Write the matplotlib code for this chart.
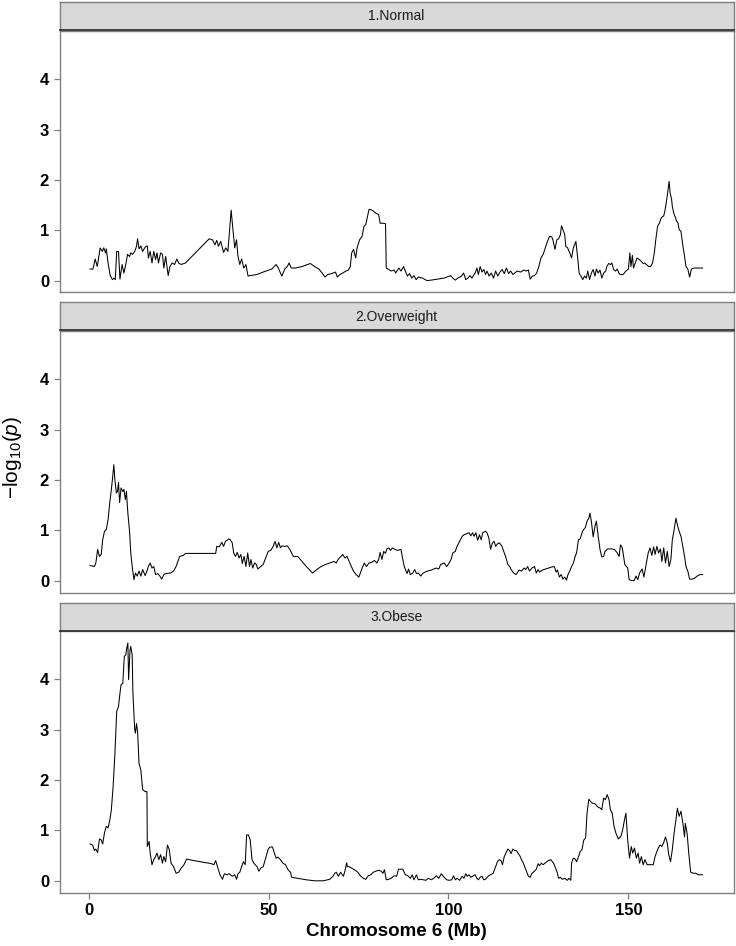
import matplotlib
matplotlib.use("Agg")
import matplotlib.pyplot as plt

plt.rcParams['font.family'] = ['Liberation Sans', 'DejaVu Sans']
plt.rcParams['mathtext.fontset'] = 'custom'
plt.rcParams['mathtext.rm'] = 'Liberation Sans'
plt.rcParams['mathtext.it'] = 'Liberation Sans:italic'

# facet titles
groups = ['1.Normal', '2.Overweight', '3.Obese']

# 1.Normal : position (Mb), -log10(p)
normal_pos = [0.36, 1.2, 1.8, 2.4, 3.2, 3.8, 4.2, 4.7, 4.9, 5.4, 6.0, 6.6, 7.1, 7.4, 7.8, 8.3, 8.7, 9.3, 9.8,
              10.4, 10.8, 11.4, 11.7, 12.2, 12.8, 13.3, 13.6, 14.0, 14.5, 15.0, 15.4, 15.9, 16.3, 16.6, 17.1,
              17.6, 18.1, 18.6, 19.0, 19.4, 20.0, 20.5, 20.9, 21.4, 22.1, 22.6, 23.2, 23.9, 24.5, 25.0, 25.7,
              26.9, 33.5, 34.4, 35.1, 35.6, 36.1, 36.7, 37.5, 38.1, 38.7, 39.1, 39.6, 40.1, 40.6, 41.1, 41.5,
              42.0, 42.5, 43.1, 43.7, 44.3, 44.9, 46.7, 48.5, 50.9, 52.1, 52.7, 53.3, 53.7, 54.5, 55.2, 55.7,
              56.3, 57.5, 59.3, 61.6, 62.8, 64.0, 65.0, 65.7, 66.4, 67.6, 68.6, 69.1, 69.8, 70.6, 71.5, 72.2,
              72.7, 73.1, 73.6, 74.2, 74.6, 75.3, 76.0, 76.5, 77.0, 77.5, 77.9, 78.4, 79.1, 79.8, 80.6, 81.0,
              81.8, 82.5, 82.7, 83.4, 84.1, 84.9, 85.3, 86.2, 86.8, 87.5, 88.0, 88.6, 89.2, 89.8, 90.4, 91.0,
              91.6, 92.8, 94.0, 95.2, 97.0, 98.8, 100.6, 101.2, 101.9, 102.6, 103.6, 104.2, 104.8, 105.4,
              106.0, 106.5, 107.4, 107.9, 108.3, 108.8, 109.3, 109.8, 110.3, 110.7, 111.3, 111.9, 112.5,
              113.1, 113.7, 114.3, 114.9, 115.5, 116.1, 116.7, 117.3, 117.9, 119.1, 120.1, 120.9, 121.5,
              122.2, 122.7, 123.3, 123.9, 124.5, 125.1, 125.7, 126.3, 126.9, 127.5, 128.1, 128.7, 129.0,
              129.6, 130.1, 130.6, 131.1, 131.4, 131.8, 132.3, 132.6, 133.1, 133.7, 134.2, 134.7, 135.4,
              135.9, 136.3, 136.8, 137.3, 137.8, 138.3, 138.7, 139.2, 139.7, 140.2, 140.7, 141.1, 141.6,
              142.1, 142.6, 143.1, 143.7, 144.0, 144.5, 145.0, 145.4, 145.9, 146.4, 146.9, 147.4, 147.8,
              148.5, 149.3, 150.0, 150.4, 150.7, 151.1, 151.4, 151.9, 152.4, 153.0, 153.6, 154.1, 154.5,
              155.0, 155.6, 156.2, 156.7, 157.2, 157.6, 158.1, 158.6, 159.1, 159.6, 159.8, 160.2, 160.5,
              160.9, 161.3, 161.6, 162.0, 162.2, 162.6, 162.9, 163.4, 163.8, 164.1, 164.6, 165.1, 165.6,
              166.0, 166.5, 167.0, 167.5, 168.2, 169.4, 170.6]
normal_p = [0.23, 0.23, 0.43, 0.28, 0.65, 0.58, 0.65, 0.55, 0.63, 0.35, 0.10, 0.02, 0.05, 0.02, 0.58, 0.58, 0.03,
            0.32, 0.15, 0.35, 0.52, 0.48, 0.55, 0.52, 0.58, 0.68, 0.83, 0.63, 0.69, 0.58, 0.63, 0.68, 0.69, 0.45,
            0.58, 0.35, 0.58, 0.42, 0.55, 0.35, 0.55, 0.52, 0.25, 0.48, 0.10, 0.28, 0.35, 0.32, 0.43, 0.35, 0.32,
            0.35, 0.83, 0.81, 0.71, 0.80, 0.68, 0.78, 0.56, 0.65, 0.58, 0.95, 1.40, 1.01, 0.65, 0.81, 0.48, 0.32,
            0.43, 0.25, 0.32, 0.09, 0.10, 0.12, 0.17, 0.23, 0.32, 0.25, 0.15, 0.09, 0.23, 0.28, 0.35, 0.25, 0.25,
            0.28, 0.34, 0.28, 0.23, 0.14, 0.07, 0.12, 0.14, 0.17, 0.07, 0.12, 0.15, 0.19, 0.21, 0.28, 0.55, 0.62,
            0.45, 0.65, 0.81, 0.88, 1.08, 1.11, 1.28, 1.41, 1.41, 1.38, 1.34, 1.31, 1.14, 1.14, 1.13, 0.25, 0.22,
            0.19, 0.21, 0.15, 0.25, 0.19, 0.28, 0.19, 0.09, 0.14, 0.05, 0.10, 0.02, 0.07, 0.05, 0.00, 0.01, 0.03,
            0.05, 0.10, 0.05, 0.01, 0.05, 0.09, 0.15, 0.02, 0.05, 0.10, 0.05, 0.15, 0.25, 0.12, 0.28, 0.17, 0.22,
            0.12, 0.19, 0.09, 0.15, 0.05, 0.19, 0.09, 0.17, 0.22, 0.14, 0.25, 0.14, 0.19, 0.12, 0.19, 0.17, 0.21,
            0.19, 0.21, 0.03, 0.09, 0.10, 0.15, 0.28, 0.45, 0.52, 0.65, 0.78, 0.88, 0.87, 0.81, 0.62, 0.81, 0.83,
            0.91, 1.09, 1.01, 0.91, 0.68, 0.65, 0.55, 0.45, 0.65, 0.78, 0.45, 0.15, 0.09, 0.02, 0.09, 0.05, 0.19,
            0.02, 0.15, 0.22, 0.09, 0.23, 0.15, 0.21, 0.05, 0.15, 0.19, 0.28, 0.34, 0.32, 0.35, 0.22, 0.19, 0.23,
            0.14, 0.12, 0.12, 0.19, 0.23, 0.55, 0.28, 0.50, 0.25, 0.35, 0.45, 0.42, 0.38, 0.34, 0.35, 0.32, 0.28,
            0.28, 0.35, 0.55, 0.81, 1.08, 1.14, 1.24, 1.28, 1.28, 1.41, 1.54, 1.74, 1.97, 1.74, 1.61, 1.47, 1.34,
            1.28, 1.18, 1.14, 1.01, 0.98, 0.71, 0.48, 0.28, 0.23, 0.07, 0.23, 0.25, 0.25, 0.25]

# 2.Overweight
over_pos = [0.4, 1.6, 2.0, 2.5, 3.0, 3.5, 3.9, 4.4, 4.9, 5.4, 5.9, 6.2, 6.6, 7.0, 7.3, 7.7, 8.0, 8.3, 8.6, 9.0,
            9.5, 9.8, 10.2, 10.5, 10.9, 11.4, 11.7, 12.2, 12.6, 13.0, 13.5, 14.0, 14.5, 15.0, 15.7, 16.2, 16.6,
            17.1, 17.6, 18.1, 18.6, 19.2, 19.8, 20.3, 20.9, 21.5, 22.7, 23.6, 24.3, 24.8, 25.3, 26.3, 26.9,
            35.3, 35.6, 36.3, 37.0, 37.5, 38.0, 38.5, 38.9, 39.4, 39.9, 40.3, 40.8, 41.3, 41.8, 42.3, 42.7,
            43.2, 43.7, 44.2, 44.7, 45.1, 45.6, 46.1, 46.6, 47.0, 47.8, 48.5, 49.2, 49.9, 50.6, 51.3, 51.8,
            52.3, 52.8, 53.3, 53.7, 54.5, 55.2, 55.9, 56.4, 56.9, 58.1, 59.3, 60.5, 62.2, 63.4, 64.6, 65.8,
            67.0, 68.2, 68.8, 69.4, 70.0, 70.6, 71.2, 71.8, 72.4, 73.0, 73.6, 74.3, 75.1, 75.5, 76.0, 76.6,
            77.2, 77.9, 78.6, 79.4, 80.1, 80.6, 81.0, 81.5, 82.0, 82.5, 82.9, 83.4, 83.9, 84.4, 85.1, 85.8,
            86.8, 87.3, 87.7, 88.5, 88.9, 89.4, 90.1, 90.6, 91.1, 91.6, 92.3, 92.8, 93.5, 94.2, 95.2, 95.9,
            96.6, 97.3, 97.8, 98.8, 99.5, 100.2, 100.7, 101.2, 101.9, 102.3, 103.1, 103.8, 104.3, 105.0,
            105.7, 106.2, 106.7, 107.1, 107.6, 108.1, 108.6, 109.1, 109.5, 110.3, 110.7, 111.2, 111.7,
            112.2, 112.7, 113.1, 113.6, 114.1, 114.8, 115.5, 116.0, 116.5, 117.0, 117.4, 118.1, 118.8,
            119.6, 120.3, 121.0, 121.5, 122.0, 122.5, 123.2, 123.9, 124.4, 124.9, 125.3, 126.1, 127.0,
            128.0, 128.7, 129.4, 129.9, 130.3, 130.8, 131.3, 131.8, 132.3, 132.8, 133.2, 133.7, 134.2,
            134.7, 135.2, 135.6, 136.1, 136.6, 137.1, 137.5, 138.0, 138.5, 139.0, 139.3, 139.7, 140.2,
            140.7, 141.1, 141.6, 142.1, 142.6, 143.1, 143.5, 144.2, 145.2, 146.1, 146.9, 147.4, 147.8,
            148.3, 149.0, 149.8, 150.2, 150.9, 151.6, 152.1, 152.6, 153.1, 153.8, 154.3, 155.0, 155.5,
            156.0, 156.5, 157.0, 157.4, 157.9, 158.4, 158.9, 159.3, 159.8, 160.3, 160.8, 161.3, 161.8,
            162.2, 162.7, 163.2, 163.7, 164.1, 164.6, 165.1, 165.6, 166.0, 166.5, 167.0, 167.7, 168.4,
            169.1, 169.9, 170.6]
over_p = [0.30, 0.28, 0.35, 0.62, 0.48, 0.52, 0.81, 0.98, 1.01, 1.21, 1.57, 1.74, 2.00, 2.30, 2.00, 1.74, 1.77,
          1.95, 1.55, 1.84, 1.77, 1.81, 1.61, 1.77, 1.34, 0.95, 0.55, 0.22, 0.02, 0.15, 0.09, 0.19, 0.09, 0.22,
          0.10, 0.19, 0.28, 0.35, 0.25, 0.28, 0.12, 0.14, 0.09, 0.03, 0.12, 0.14, 0.15, 0.19, 0.28, 0.38, 0.48,
          0.50, 0.54, 0.54, 0.68, 0.67, 0.76, 0.68, 0.78, 0.80, 0.83, 0.81, 0.75, 0.55, 0.48, 0.56, 0.45, 0.52,
          0.34, 0.48, 0.28, 0.55, 0.28, 0.42, 0.25, 0.35, 0.32, 0.23, 0.28, 0.32, 0.45, 0.58, 0.60, 0.68, 0.78,
          0.65, 0.76, 0.65, 0.69, 0.68, 0.69, 0.62, 0.55, 0.48, 0.48, 0.38, 0.28, 0.15, 0.22, 0.28, 0.32, 0.35,
          0.38, 0.35, 0.43, 0.47, 0.52, 0.45, 0.48, 0.38, 0.28, 0.19, 0.12, 0.07, 0.15, 0.25, 0.35, 0.28, 0.35,
          0.36, 0.40, 0.35, 0.42, 0.56, 0.42, 0.58, 0.54, 0.63, 0.65, 0.60, 0.65, 0.62, 0.60, 0.62, 0.42, 0.28,
          0.14, 0.23, 0.12, 0.15, 0.22, 0.14, 0.15, 0.09, 0.14, 0.17, 0.19, 0.21, 0.23, 0.25, 0.23, 0.32, 0.35,
          0.28, 0.35, 0.42, 0.55, 0.58, 0.67, 0.78, 0.88, 0.91, 0.93, 0.95, 0.89, 0.95, 0.88, 0.95, 0.80, 0.91,
          0.81, 0.95, 0.98, 0.95, 0.85, 0.62, 0.75, 0.78, 0.68, 0.73, 0.75, 0.69, 0.55, 0.45, 0.32, 0.28, 0.22,
          0.15, 0.12, 0.21, 0.19, 0.25, 0.22, 0.28, 0.19, 0.25, 0.28, 0.15, 0.22, 0.17, 0.21, 0.23, 0.25, 0.27,
          0.28, 0.17, 0.21, 0.07, 0.12, 0.03, 0.07, 0.01, 0.12, 0.19, 0.28, 0.35, 0.48, 0.55, 0.81, 0.83, 0.95,
          1.01, 1.05, 1.18, 1.24, 1.34, 1.18, 0.87, 1.08, 1.18, 0.88, 0.62, 0.47, 0.48, 0.58, 0.63, 0.63, 0.62,
          0.55, 0.48, 0.71, 0.65, 0.32, 0.25, 0.02, 0.00, 0.00, 0.09, 0.02, 0.15, 0.23, 0.07, 0.35, 0.55, 0.65,
          0.50, 0.67, 0.52, 0.68, 0.55, 0.63, 0.38, 0.65, 0.35, 0.58, 0.28, 0.42, 0.81, 1.01, 1.24, 1.08, 0.98,
          0.88, 0.68, 0.48, 0.28, 0.19, 0.03, 0.03, 0.05, 0.09, 0.12, 0.12]

# 3.Obese
obese_pos = [0.4, 1.1, 1.6, 2.0, 2.5, 3.0, 3.5, 3.9, 4.4, 4.9, 5.4, 5.9, 6.3, 6.8, 7.3, 7.8, 8.3, 8.6, 9.0, 9.5,
             9.9, 10.3, 10.6, 10.9, 11.1, 11.5, 11.7, 12.1, 12.3, 12.8, 13.0, 13.3, 13.6, 14.0, 14.5, 15.0,
             15.7, 16.2, 16.3, 16.8, 17.1, 17.6, 18.1, 18.6, 19.0, 19.5, 20.0, 20.5, 20.9, 21.4, 21.9, 22.4,
             22.9, 23.6, 24.3, 25.0, 25.7, 26.5, 27.2, 29.3, 31.7, 34.1, 34.8, 35.3, 35.8, 36.5, 37.2, 37.7,
             38.4, 39.1, 39.9, 40.6, 41.1, 41.5, 42.0, 42.5, 43.0, 43.5, 43.7, 43.9, 44.4, 44.9, 45.4, 45.9,
             46.3, 46.8, 47.3, 47.8, 48.5, 49.2, 49.9, 50.4, 51.1, 51.6, 52.1, 52.6, 53.3, 54.0, 54.7, 55.4,
             56.1, 56.4, 58.1, 60.5, 62.8, 65.2, 67.0, 67.9, 68.4, 68.8, 69.4, 70.0, 70.8, 71.2, 71.7, 71.9,
             72.4, 73.1, 74.1, 74.8, 75.5, 76.3, 77.0, 77.7, 78.4, 79.1, 79.8, 80.6, 81.3, 81.8, 82.2, 82.7,
             83.4, 84.1, 84.9, 85.6, 86.1, 86.6, 87.3, 88.0, 88.7, 89.4, 89.9, 90.4, 91.1, 91.6, 92.3, 93.0,
             93.7, 94.4, 95.2, 95.9, 96.6, 97.3, 98.0, 98.8, 99.5, 100.2, 100.9, 101.4, 101.9, 102.4, 103.1,
             103.8, 104.3, 104.8, 105.2, 105.7, 106.2, 106.7, 107.4, 107.9, 108.3, 108.8, 109.3, 109.8,
             110.3, 111.0, 111.7, 112.4, 113.1, 113.6, 114.1, 114.6, 115.0, 115.5, 116.0, 116.5, 117.0,
             117.4, 117.9, 118.4, 118.9, 119.3, 119.8, 120.3, 120.8, 121.5, 122.2, 122.7, 123.2, 123.9,
             124.4, 124.9, 125.3, 125.8, 126.3, 127.0, 127.7, 128.4, 129.2, 129.6, 130.1, 130.6, 131.1,
             131.6, 132.3, 133.0, 133.5, 134.0, 134.2, 134.7, 135.2, 135.6, 136.1, 136.6, 137.1, 137.6,
             138.1, 138.5, 139.0, 139.5, 140.0, 140.7, 141.4, 142.2, 142.6, 143.1, 143.6, 144.1, 144.6,
             145.0, 145.5, 146.0, 146.5, 147.2, 147.9, 148.4, 148.9, 149.3, 149.8, 150.3, 150.8, 151.2,
             151.7, 152.2, 152.7, 153.1, 153.6, 154.1, 154.6, 155.2, 156.2, 156.9, 157.4, 157.9, 158.3,
             158.8, 159.3, 159.8, 160.3, 160.8, 161.2, 161.7, 162.2, 162.7, 163.2, 163.6, 164.1, 164.6,
             165.1, 165.6, 165.8, 166.3, 166.8, 167.3, 168.0, 168.7, 169.4, 170.6]
obese_p = [0.73, 0.71, 0.60, 0.63, 0.56, 0.83, 0.81, 0.73, 0.95, 1.08, 1.05, 1.21, 1.40, 1.87, 2.53, 3.36, 3.46,
           3.66, 3.89, 3.92, 4.45, 4.48, 4.62, 4.72, 3.99, 4.58, 4.65, 4.48, 3.72, 3.00, 2.93, 3.12, 2.96, 2.33,
           2.20, 1.81, 1.77, 1.77, 0.68, 0.78, 0.55, 0.32, 0.42, 0.48, 0.55, 0.42, 0.52, 0.35, 0.48, 0.38, 0.71,
           0.62, 0.35, 0.28, 0.15, 0.17, 0.25, 0.32, 0.43, 0.40, 0.37, 0.34, 0.32, 0.40, 0.28, 0.12, 0.03, 0.14,
           0.12, 0.14, 0.09, 0.12, 0.03, 0.14, 0.17, 0.28, 0.38, 0.32, 0.62, 0.91, 0.91, 0.81, 0.42, 0.35, 0.32,
           0.28, 0.19, 0.25, 0.28, 0.45, 0.63, 0.67, 0.67, 0.55, 0.45, 0.47, 0.42, 0.35, 0.32, 0.22, 0.17, 0.07,
           0.05, 0.02, 0.00, 0.00, 0.03, 0.09, 0.15, 0.17, 0.09, 0.17, 0.09, 0.19, 0.36, 0.28, 0.28, 0.25, 0.21,
           0.17, 0.10, 0.05, 0.03, 0.10, 0.12, 0.17, 0.19, 0.21, 0.19, 0.15, 0.22, 0.02, 0.03, 0.05, 0.10, 0.09,
           0.23, 0.23, 0.23, 0.12, 0.10, 0.05, 0.12, 0.02, 0.12, 0.02, 0.03, 0.02, 0.01, 0.05, 0.02, 0.05, 0.10,
           0.05, 0.14, 0.07, 0.02, 0.01, 0.02, 0.10, 0.02, 0.05, 0.01, 0.09, 0.05, 0.14, 0.09, 0.12, 0.07, 0.09,
           0.12, 0.05, 0.02, 0.07, 0.09, 0.02, 0.03, 0.09, 0.12, 0.15, 0.28, 0.38, 0.42, 0.40, 0.32, 0.48, 0.56,
           0.63, 0.60, 0.54, 0.63, 0.60, 0.60, 0.55, 0.50, 0.42, 0.35, 0.22, 0.09, 0.07, 0.15, 0.19, 0.23, 0.34,
           0.30, 0.35, 0.32, 0.36, 0.40, 0.42, 0.35, 0.28, 0.19, 0.05, 0.07, 0.03, 0.05, 0.01, 0.05, 0.01, 0.35,
           0.45, 0.43, 0.38, 0.47, 0.58, 0.62, 0.81, 0.85, 1.34, 1.62, 1.57, 1.54, 1.53, 1.47, 1.44, 1.41, 1.64,
           1.61, 1.71, 1.61, 1.41, 1.34, 1.08, 0.95, 0.83, 0.88, 1.01, 1.21, 1.34, 0.81, 0.45, 0.68, 0.55, 0.65,
           0.45, 0.55, 0.35, 0.48, 0.32, 0.42, 0.32, 0.32, 0.32, 0.48, 0.58, 0.65, 0.71, 0.68, 0.76, 0.87, 0.75,
           0.52, 0.38, 0.62, 0.95, 1.21, 1.44, 1.28, 1.38, 1.16, 0.87, 1.14, 0.95, 0.52, 0.17, 0.15, 0.15, 0.12,
           0.12]

series = [(normal_pos, normal_p), (over_pos, over_p), (obese_pos, obese_p)]

W, H = 736, 946
fig = plt.figure(figsize=(W / 100, H / 100), dpi=100)

border = '#7f7f7f'
left, right = 59.5, 733.5
tops = [31, 331, 631]
bottoms = [292.5, 592.5, 892.7]
strip_h = 28

allmax = max(max(normal_p), max(over_p), max(obese_p))
ypad = allmax * 0.05

for i, (name, (xs, ys)) in enumerate(zip(groups, series)):
    ax = fig.add_axes([left / W, 1 - bottoms[i] / H, (right - left) / W, (bottoms[i] - tops[i]) / H])
    ax.plot(xs, ys, color='black', lw=0.75)
    ax.set_xlim(-8.1, 179.2)
    ax.set_ylim(-ypad, allmax + ypad)
    ax.set_yticks([0, 1, 2, 3, 4])
    ax.set_xticks([0, 50, 100, 150])
    for s in ax.spines.values():
        s.set_color(border)
        s.set_linewidth(1.0)
    ax.tick_params(colors=border, length=4, width=0.9)
    for lab in ax.get_yticklabels() + ax.get_xticklabels():
        lab.set_color('black')
        lab.set_fontweight('bold')
        lab.set_fontsize(12)
    if i < 2:
        ax.tick_params(axis='x', bottom=False, labelbottom=False)

    # facet strip
    sax = fig.add_axes([left / W, 1 - (tops[i] - 0.5) / H, (right - left) / W, strip_h / H])
    sax.set_facecolor('#d9d9d9')
    sax.set_xticks([])
    sax.set_yticks([])
    for s in sax.spines.values():
        s.set_color(border)
        s.set_linewidth(1.0)
    sax.spines['bottom'].set_color('#333333')
    sax.spines['bottom'].set_linewidth(1.3)
    sax.text(0.5, 0.5, name, ha='center', va='center', fontsize=10, color='#1a1a1a',
             transform=sax.transAxes)

fig.text(13 / W, 1 - 457 / H, r'$-\mathrm{log}_{10}(\mathit{p})$', rotation=90,
         ha='center', va='center', fontsize=15)
fig.text((left + right) / 2 / W, 1 - 931 / H, 'Chromosome 6 (Mb)', ha='center', va='center',
         fontsize=13.5, fontweight='bold')

fig.savefig('out.png', dpi=100)
